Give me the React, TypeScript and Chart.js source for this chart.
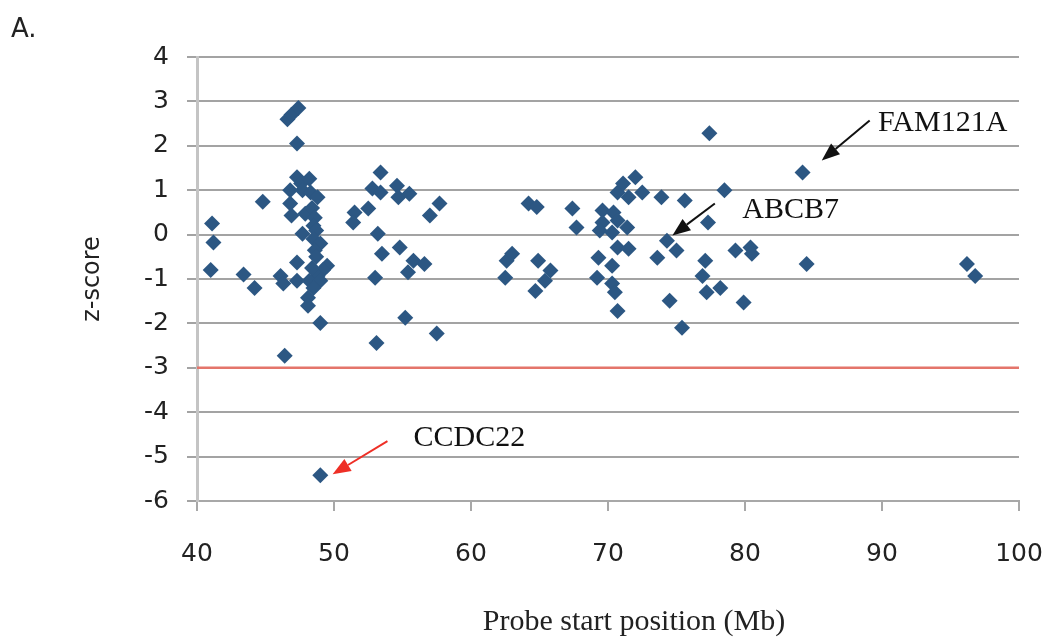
import React, { useEffect, useRef } from "react";
import { Chart, registerables } from "chart.js";

Chart.register(...registerables);

// Probe start position (Mb)
const positionsMb = [
  41.1, 41.2, 41.0, 43.4, 44.2, 44.8,
  46.6, 46.9, 47.4, 47.3, 47.3, 47.6, 48.2, 46.8, 47.7, 48.3, 48.8, 46.8, 46.9, 47.9,
  48.4, 48.6, 48.5, 47.7, 48.7, 48.5, 49.0, 48.6, 47.3, 48.7, 49.5, 49.2, 48.8, 48.4,
  46.1, 46.3, 47.3, 48.2, 49.0, 48.5, 48.1, 48.1, 49.0, 46.4, 49.0,
  51.5, 51.4, 52.5, 52.8, 53.4, 53.4, 54.6, 54.7, 55.5, 57.7, 57.0, 53.2, 53.5, 54.8,
  55.8, 56.6, 55.4, 53.0, 55.2, 57.5, 53.1,
  62.5, 62.6, 63.0, 64.2, 64.8, 64.9, 65.8, 65.4, 64.7, 67.4, 67.7,
  69.6, 70.4, 69.6, 70.7, 71.4, 69.4, 70.3, 70.7, 71.1, 72.0, 71.5, 72.5, 73.9, 75.6,
  70.7, 71.5, 69.3, 70.3, 69.2, 70.3, 70.5, 70.7, 74.3, 75.0, 73.6, 74.5, 75.4,
  77.4, 78.5, 77.3, 77.1, 76.9, 77.2, 78.2, 79.3, 80.4, 80.5, 79.9, 84.2, 84.5, 96.2, 96.8,
];

// z-score
const zScores = [
  0.25, -0.18, -0.8, -0.9, -1.2, 0.74,
  2.6, 2.7, 2.85, 2.05, 1.29, 1.15, 1.26, 1.0, 1.0, 0.95, 0.84, 0.7, 0.43, 0.47,
  0.6, 0.38, 0.2, 0.02, 0.09, -0.1, -0.2, -0.35, -0.63, -0.5, -0.7, -0.8, -0.93, -0.75,
  -0.93, -1.1, -1.04, -1.04, -1.04, -1.2, -1.42, -1.6, -1.99, -2.73, -5.42,
  0.5, 0.27, 0.59, 1.04, 0.95, 1.4, 1.1, 0.84, 0.92, 0.7, 0.43, 0.02, -0.43, -0.29,
  -0.59, -0.66, -0.85, -0.97, -1.87, -2.23, -2.44,
  -0.97, -0.59, -0.43, 0.7, 0.62, -0.59, -0.81, -1.04, -1.27, 0.59, 0.16,
  0.54, 0.5, 0.27, 0.32, 0.16, 0.09, 0.05, 0.95, 1.15, 1.29, 0.84, 0.95, 0.84, 0.77,
  -0.29, -0.32, -0.52, -0.7, -0.97, -1.1, -1.3, -1.72, -0.14, -0.36, -0.52, -1.49, -2.1,
  2.28, 1.0, 0.27, -0.59, -0.93, -1.3, -1.2, -0.36, -0.29, -0.43, -1.53, 1.4, -0.66, -0.66, -0.93,
];

const thresholdZ = -3;
const xRange = [40, 100];
const yRange = [-6, 4];

// Annotations (in data units)
const annotationLabels = ["FAM121A", "ABCB7", "CCDC22"];
const annotationTextX = [89.7, 79.8, 55.8];
const annotationTextY = [2.5, 0.54, -4.58];
const arrowFromX = [89.1, 77.8, 53.9];
const arrowFromY = [2.57, 0.7, -4.65];
const arrowToX = [85.6, 74.7, 49.9];
const arrowToY = [1.67, -0.02, -5.4];
const arrowColors = ["#111111", "#111111", "#ee2f26"];

const annotationPlugin = {
  id: "annots",
  afterDatasetsDraw(chart: any) {
    const ctx = chart.ctx;
    const xs = chart.scales.x;
    const ys = chart.scales.y;
    ctx.save();
    for (let i = 0; i < annotationLabels.length; i++) {
      const x1 = xs.getPixelForValue(arrowFromX[i]);
      const y1 = ys.getPixelForValue(arrowFromY[i]);
      const x2 = xs.getPixelForValue(arrowToX[i]);
      const y2 = ys.getPixelForValue(arrowToY[i]);
      const ang = Math.atan2(y2 - y1, x2 - x1);
      const headLen = 18;
      const headW = 7;
      const bx = x2 - headLen * Math.cos(ang);
      const by = y2 - headLen * Math.sin(ang);
      ctx.strokeStyle = arrowColors[i];
      ctx.fillStyle = arrowColors[i];
      ctx.lineWidth = 2;
      ctx.beginPath();
      ctx.moveTo(x1, y1);
      ctx.lineTo(bx, by);
      ctx.stroke();
      ctx.beginPath();
      ctx.moveTo(x2, y2);
      ctx.lineTo(bx + headW * Math.sin(ang), by - headW * Math.cos(ang));
      ctx.lineTo(bx - headW * Math.sin(ang), by + headW * Math.cos(ang));
      ctx.closePath();
      ctx.fill();

      ctx.fillStyle = "#111111";
      ctx.font = "30px 'Liberation Serif'";
      ctx.textAlign = "left";
      ctx.textBaseline = "middle";
      ctx.fillText(
        annotationLabels[i],
        xs.getPixelForValue(annotationTextX[i]),
        ys.getPixelForValue(annotationTextY[i])
      );
    }
    ctx.restore();
  },
  afterDraw(chart: any) {
    const ctx = chart.ctx;
    const area = chart.chartArea;
    ctx.save();
    ctx.fillStyle = "#222222";
    // panel label
    ctx.font = "26px 'DejaVu Sans'";
    ctx.textAlign = "left";
    ctx.textBaseline = "alphabetic";
    ctx.fillText("A.", 11, 37);
    // x title
    ctx.font = "30px 'Liberation Serif'";
    ctx.textAlign = "center";
    ctx.textBaseline = "middle";
    ctx.fillText("Probe start position (Mb)", (area.left + area.right) / 2 + 26, 622);
    // y title
    ctx.font = "24px 'DejaVu Sans'";
    ctx.translate(93, (area.top + area.bottom) / 2);
    ctx.rotate(-Math.PI / 2);
    ctx.fillText("z-score", 0, 0);
    ctx.restore();
  },
};

export default function App() {
  const ref = useRef<HTMLCanvasElement | null>(null);
  useEffect(() => {
    if (!ref.current) return;
    const points = positionsMb.map((x, i) => ({ x, y: zScores[i] }));
    const chart = new Chart(ref.current, {
      type: "scatter",
      data: {
        datasets: [
          {
            type: "line",
            data: [
              { x: xRange[0], y: thresholdZ },
              { x: xRange[1], y: thresholdZ },
            ],
            borderColor: "#e4756b",
            borderWidth: 2.5,
            pointRadius: 0,
            order: 2,
          } as any,
          {
            data: points,
            pointStyle: "rectRot",
            pointRadius: 8,
            backgroundColor: "#2c5783",
            borderWidth: 0,
            order: 1,
          },
        ],
      },
      options: {
        animation: false,
        responsive: false,
        devicePixelRatio: 1,
        layout: { padding: { top: 57, right: 32, left: 0, bottom: 0 } },
        plugins: { legend: { display: false }, tooltip: { enabled: false } },
        scales: {
          x: {
            type: "linear",
            min: xRange[0],
            max: xRange[1],
            ticks: {
              stepSize: 10,
              padding: 28,
              color: "#222222",
              font: { family: "'DejaVu Sans'", size: 25 },
            },
            grid: {
              drawOnChartArea: false,
              tickLength: 10,
              color: "#a8a8a8",
              lineWidth: 2,
            },
            border: { display: true, color: "#a8a8a8", width: 2 },
            afterFit(scale: any) {
              scale.height = 143;
              scale.paddingLeft = 0;
              scale.paddingRight = 0;
            },
          },
          y: {
            type: "linear",
            min: yRange[0],
            max: yRange[1],
            ticks: {
              stepSize: 1,
              padding: 18,
              color: "#222222",
              font: { family: "'DejaVu Sans'", size: 25 },
            },
            grid: {
              tickLength: 10,
              color: "#a3a3a3",
              lineWidth: 2,
            },
            border: { display: true, color: "#c4c4c4", width: 3 },
            afterFit(scale: any) {
              scale.width = 197;
              scale.paddingTop = 0;
              scale.paddingBottom = 0;
            },
          },
        },
      },
      plugins: [annotationPlugin],
    });
    return () => chart.destroy();
  }, []);
  return (
    <div style={{ position: "fixed", left: 0, top: 0, width: 1051, height: 644, background: "#fff" }}>
      <canvas ref={ref} width={1051} height={644} style={{ width: 1051, height: 644 }} />
    </div>
  );
}
